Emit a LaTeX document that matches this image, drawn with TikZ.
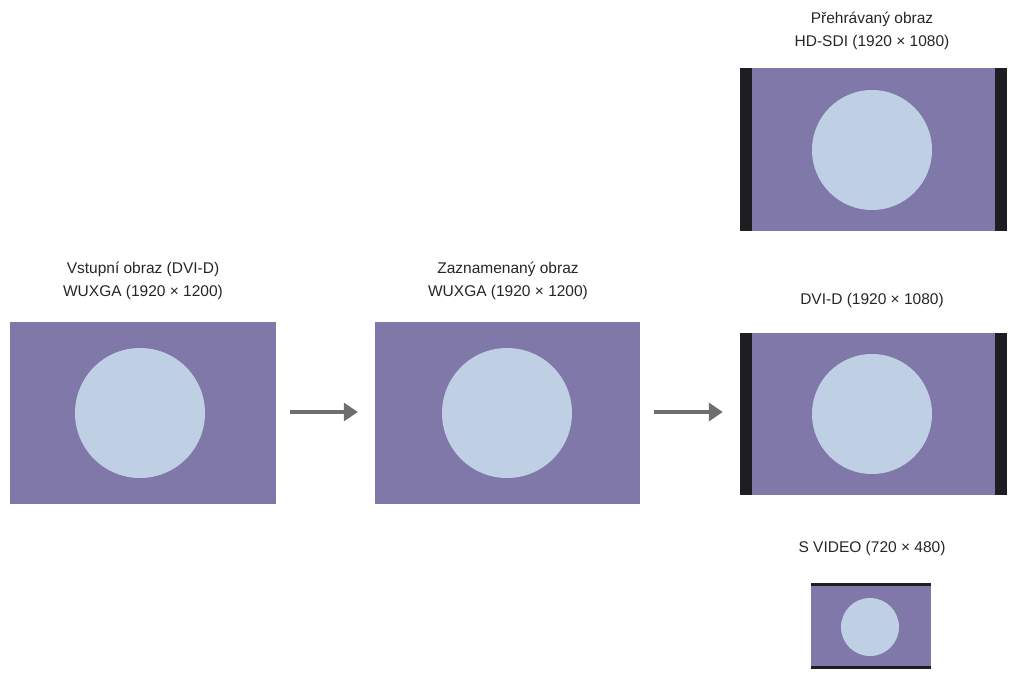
\documentclass[tikz,border=0pt]{standalone}
\usepackage{fontspec}
\setmainfont{Liberation Sans}
\usetikzlibrary{arrows.meta}
\definecolor{pur}{HTML}{8078A8}
\definecolor{circ}{HTML}{BFD0E5}
\definecolor{bar}{HTML}{1E1E22}
\definecolor{arr}{HTML}{6E6E6E}
\begin{document}
\begin{tikzpicture}[x=1pt,y=-1pt,
  scr/.style={fill=pur,draw=none,inner sep=0,minimum width=#1},
  lbl/.style={font=\fontsize{15.5}{23}\selectfont,align=center,text=black!85},
  disc/.style={circle,fill=circ,inner sep=0},
  flow/.style={draw=arr,line width=4pt,-{Triangle[length=14pt,width=18pt]},shorten <=14pt,shorten >=17pt}]
\useasboundingbox (0,0) rectangle (1012,673);
% left
\node[scr=266pt,minimum height=182pt] (b1) at (143,413) {};
\node[disc,minimum size=130pt] (c1) at (140,413) {};
\node[lbl] (t1) at (143,281) {Vstupní obraz (DVI-D)\\WUXGA (1920 × 1200)};
% middle
\node[scr=265pt,minimum height=182pt] (b2) at (507.5,413) {};
\node[disc,minimum size=130pt] (c2) at (507,413) {};
\node[lbl] (t2) at (508,281) {Zaznamenaný obraz\\WUXGA (1920 × 1200)};
% top right
\node[scr=267pt,minimum height=163pt] (b3) at (873.5,149.5) {};
\fill[bar] (740,68) rectangle (752,231);
\fill[bar] (995,68) rectangle (1007,231);
\node[disc,minimum size=120pt] (c3) at (872,150) {};
\node[lbl] (t3) at (872,31) {Přehrávaný obraz\\HD-SDI (1920 × 1080)};
% middle right
\node[scr=267pt,minimum height=162pt] (b4) at (873.5,414) {};
\fill[bar] (740,333) rectangle (752,495);
\fill[bar] (995,333) rectangle (1007,495);
\node[disc,minimum size=120pt] (c4) at (872,414) {};
\node[lbl] (t4) at (872,300) {DVI-D (1920 × 1080)};
% small
\node[scr=120pt,minimum height=86pt] (b5) at (871,626) {};
\fill[bar] (811,583) rectangle (931,586);
\fill[bar] (811,666) rectangle (931,669);
\node[disc,minimum size=58pt] (c5) at (870,627) {};
\node[lbl] (t5) at (872,548) {S VIDEO (720 × 480)};
% arrows
\draw[flow] (b1.east |- 0,412) -- (b2.west |- 0,412);
\draw[flow] (b2.east |- 0,412) -- (b4.west |- 0,412);
\end{tikzpicture}
\end{document}
